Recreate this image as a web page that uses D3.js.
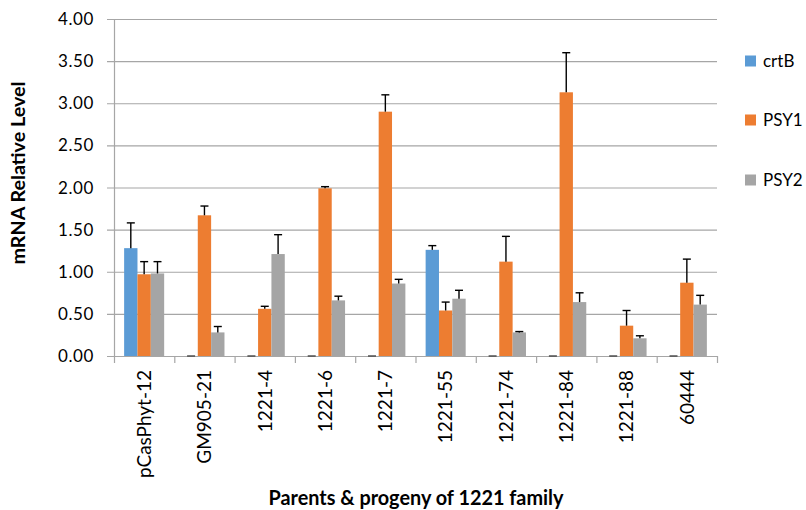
<!DOCTYPE html>
<html>
<head>
<meta charset="utf-8">
<script src="https://cdn.jsdelivr.net/npm/d3@7"></script>
<style>
  html, body { margin: 0; padding: 0; background: #fff; }
  svg { display: block; }
  text { font-family: Lato, "Open Sans", "Liberation Sans", sans-serif; fill: #000; }
</style>
</head>
<body>
<svg id="chart" width="806" height="510"></svg>
<script>
// ---- data ----
const categories = ["pCasPhyt-12", "GM905-21", "1221-4", "1221-6", "1221-7", "1221-55", "1221-74", "1221-84", "1221-88", "60444"];
const seriesNames = ["crtB", "PSY1", "PSY2"];
const crtB     = [1.28, 0, 0, 0, 0, 1.26, 0, 0, 0, 0];
const crtBErr  = [0.30, 0, 0, 0, 0, 0.05, 0, 0, 0, 0];
const psy1     = [0.97, 1.67, 0.56, 1.99, 2.90, 0.54, 1.12, 3.13, 0.36, 0.87];
const psy1Err  = [0.15, 0.11, 0.03, 0.02, 0.20, 0.10, 0.30, 0.47, 0.18, 0.28];
const psy2     = [0.98, 0.28, 1.21, 0.66, 0.86, 0.68, 0.28, 0.64, 0.21, 0.61];
const psy2Err  = [0.14, 0.07, 0.23, 0.05, 0.05, 0.10, 0.01, 0.11, 0.03, 0.11];
const yTicks   = [0, 0.5, 1, 1.5, 2, 2.5, 3, 3.5, 4];
const colors   = ["#5b9bd5", "#ed7d31", "#a5a5a5"];
const yTitle = "mRNA Relative Level";
const xTitle = "Parents & progeny of 1221 family";

const values = [crtB, psy1, psy2];
const errors = [crtBErr, psy1Err, psy2Err];

// ---- layout ----
const svg = d3.select("#chart");
const L = 114, R = 717, T = 19, B = 356;

const x = d3.scaleBand().domain(categories).range([L, R]).paddingInner(0).paddingOuter(0);
const bw = x.bandwidth();
const x1 = d3.scaleBand().domain(seriesNames).range([bw * 0.168, bw * 0.832]).padding(0);
const y = d3.scaleLinear().domain([0, 4]).range([B, T]);

const gridColor = "#a6a6a6";

// gridlines
svg.append("g").selectAll("line").data(yTicks).join("line")
  .attr("x1", L - 7).attr("x2", R)
  .attr("y1", d => y(d) + 0.5).attr("y2", d => y(d) + 0.5)
  .attr("stroke", gridColor).attr("stroke-width", 1.2);

// y axis line
svg.append("line").attr("x1", L + 0.5).attr("x2", L + 0.5).attr("y1", T).attr("y2", B)
  .attr("stroke", gridColor).attr("stroke-width", 1.2);

// y tick labels
svg.append("g").selectAll("text").data(yTicks).join("text")
  .attr("x", 94).attr("y", d => y(d))
  .attr("dy", "0.36em")
  .attr("text-anchor", "end")
  .style("font-size", "17px")
  .style("letter-spacing", "0.6px")
  .text(d => d3.format(".2f")(d));

// bars
const rows = [];
seriesNames.forEach((s, si) => {
  categories.forEach((c, ci) => {
    rows.push({ s, si, c, v: values[si][ci], e: errors[si][ci] });
  });
});

svg.append("g").selectAll("rect").data(rows.filter(d => d.v > 0)).join("rect")
  .attr("x", d => x(d.c) + x1(d.s))
  .attr("width", x1.bandwidth())
  .attr("y", d => y(d.v))
  .attr("height", d => y(0) - y(d.v))
  .attr("fill", d => colors[d.si]);

// x axis line and ticks
svg.append("line").attr("x1", L).attr("x2", R).attr("y1", B + 0.5).attr("y2", B + 0.5)
  .attr("stroke", gridColor).attr("stroke-width", 1.2);
const bounds = categories.map(c => x(c)).concat([R]);
svg.append("g").selectAll("line").data(bounds).join("line")
  .attr("x1", d => d + 0.5).attr("x2", d => d + 0.5)
  .attr("y1", B).attr("y2", B + 7)
  .attr("stroke", gridColor).attr("stroke-width", 1.2);

// error bars
const eg = svg.append("g").attr("stroke", "#000").attr("stroke-width", 1.4);
rows.forEach(d => {
  const cx = x(d.c) + x1(d.s) + x1.bandwidth() / 2;
  if (d.e > 0) {
    eg.append("line").attr("x1", cx).attr("x2", cx).attr("y1", y(d.v)).attr("y2", y(d.v + d.e));
  }
  eg.append("line").attr("x1", cx - 4).attr("x2", cx + 4)
    .attr("y1", y(d.v + d.e)).attr("y2", y(d.v + d.e))
    .attr("stroke", d.v > 0 ? "#000" : "#444");
});

// category labels (rotated)
svg.append("g").selectAll("text").data(categories).join("text")
  .attr("transform", d => `translate(${x(d) + bw / 2},370) rotate(-90)`)
  .attr("text-anchor", "end")
  .attr("dy", "0.36em")
  .style("font-size", "19px")
  .text(d => d);

// y title
svg.append("text")
  .attr("transform", "translate(19,173) rotate(-90)")
  .attr("text-anchor", "middle")
  .attr("dy", "0.36em")
  .style("font-size", "18px").style("font-weight", "bold")
  .attr("textLength", 183).attr("lengthAdjust", "spacingAndGlyphs")
  .text(yTitle);

// x title
svg.append("text")
  .attr("x", 416).attr("y", 505)
  .attr("text-anchor", "middle")
  .style("font-size", "20px").style("font-weight", "bold")
  .attr("textLength", 295).attr("lengthAdjust", "spacingAndGlyphs")
  .text(xTitle);

// legend
const legendY = [61, 120, 180];
const lg = svg.append("g").selectAll("g").data(seriesNames).join("g")
  .attr("transform", (d, i) => `translate(745,${legendY[i]})`);
lg.append("rect").attr("x", 0).attr("y", -5.5).attr("width", 11).attr("height", 11)
  .attr("fill", (d, i) => colors[i]);
lg.append("text").attr("x", 18).attr("y", 0).attr("dy", "0.36em")
  .style("font-size", "17px").text(d => d);
</script>
</body>
</html>
